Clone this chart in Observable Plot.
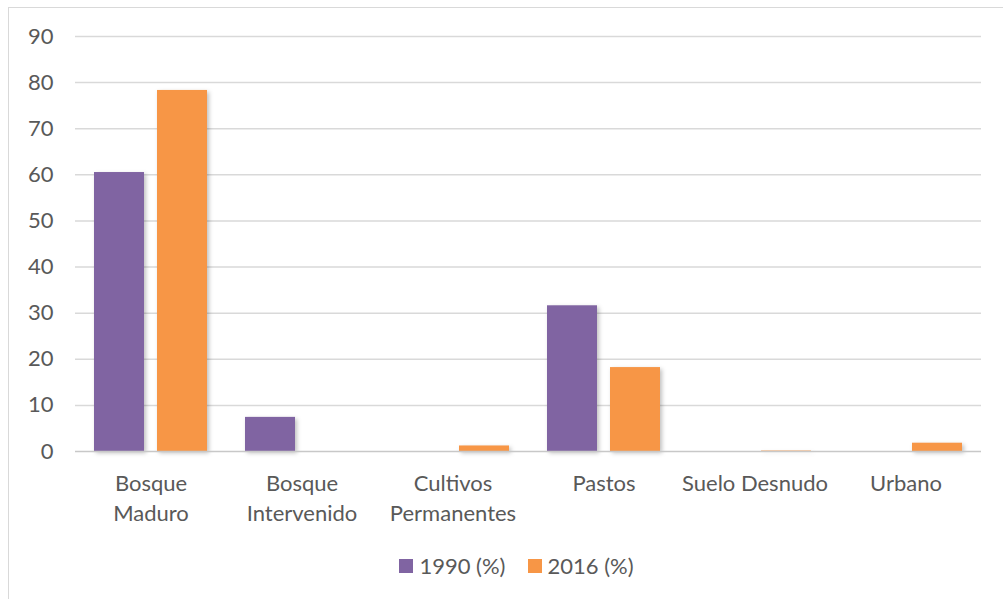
<!DOCTYPE html>
<html>
<head>
<meta charset="utf-8">
<script src="https://cdn.jsdelivr.net/npm/d3@7"></script>
<script src="https://cdn.jsdelivr.net/npm/@observablehq/plot@0.6"></script>
<style>
  html, body { margin: 0; padding: 0; background: #fff; width: 1003px; height: 599px; overflow: hidden; }
  #frame { position: absolute; left: 8px; top: 7px; width: 1010px; height: 610px; border-left: 1px solid #d9d9d9; border-top: 1px solid #d9d9d9; }
  #chart { position: absolute; left: 0; top: 0; }
  #legend { position: absolute; left: 0; top: 552px; width: 1003px; box-sizing: border-box; padding-left: 30px; display: flex; justify-content: center; font-family: Lato, sans-serif; font-size: 22px; color: #595959; }
  #legend .item { display: flex; align-items: center; margin: 0 11px; }
  #legend .sw { width: 14px; height: 14px; margin-right: 6px; display: inline-block; }
  g[aria-label="bar"] { filter: drop-shadow(2px 2px 2px rgba(0,0,0,0.25)); }
</style>
</head>
<body>
<div id="frame"></div>
<div id="chart"></div>
<div id="legend"></div>
<script>
const categories = ["Bosque Maduro", "Bosque Intervenido", "Cultivos Permanentes", "Pastos", "Suelo Desnudo", "Urbano"];
const categoryLabels = ["Bosque\nMaduro", "Bosque\nIntervenido", "Cultivos\nPermanentes", "Pastos", "Suelo Desnudo", "Urbano"];
const seriesNames = ["1990 (%)", "2016 (%)"];
const seriesColors = ["#8064A2", "#F79646"];
const values1990 = [60.5, 7.4, 0, 31.6, 0, 0];
const values2016 = [78.3, 0, 1.2, 18.2, 0.1, 1.8];
const yTicks = [0, 10, 20, 30, 40, 50, 60, 70, 80, 90];

const rows = [];
categories.forEach((c, i) => {
  rows.push({cat: c, series: seriesNames[0], value: values1990[i]});
  rows.push({cat: c, series: seriesNames[1], value: values2016[i]});
});
const labelRows = categories.map((c, i) => ({cat: c, label: categoryLabels[i]}));

const chart = Plot.plot({
  width: 1003,
  height: 540,
  marginLeft: 73,
  marginRight: 20,
  marginTop: 36,
  marginBottom: 89,
  style: {fontFamily: "Lato, sans-serif", fontSize: "22px", color: "#595959", background: "transparent"},
  fx: {domain: categories, padding: 0, axis: null},
  x: {domain: seriesNames, paddingInner: 0.203, paddingOuter: 0.283, axis: null},
  y: {domain: [0, 90], ticks: yTicks, tickSize: 0, tickPadding: 22, label: null, axis: "left"},
  color: {domain: seriesNames, range: seriesColors},
  marks: [
    Plot.gridY(yTicks.filter(d => d > 0), {stroke: "#d9d9d9", strokeWidth: 1.5, strokeOpacity: 1}),
    Plot.barY(rows, {fx: "cat", x: "series", y: "value", fill: "series"}),
    Plot.ruleY([0], {stroke: "#c8c8c8", strokeWidth: 1.5}),
    Plot.text(labelRows, {fx: "cat", text: "label", frameAnchor: "bottom", dy: 18, lineAnchor: "top", lineHeight: 1.36, fill: "#595959", fontSize: 22})
  ]
});
document.getElementById("chart").appendChild(chart);

const legend = document.getElementById("legend");
seriesNames.forEach((s, i) => {
  const item = document.createElement("span");
  item.className = "item";
  const sw = document.createElement("span");
  sw.className = "sw";
  sw.style.background = seriesColors[i];
  item.appendChild(sw);
  item.appendChild(document.createTextNode(s));
  legend.appendChild(item);
});
</script>
</body>
</html>
